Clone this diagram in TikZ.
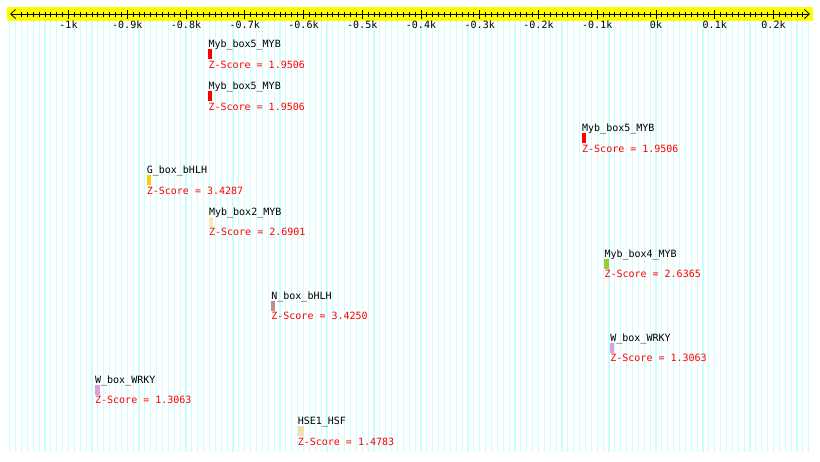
\documentclass[tikz,border=0pt]{standalone}
\usepackage{fontspec}
\setmonofont{DejaVu Sans Mono}
\usetikzlibrary{arrows.meta}
\definecolor{bandyellow}{RGB}{255,255,0}
\definecolor{gridcyan}{RGB}{200,255,255}
\definecolor{gboxgold}{RGB}{255,204,0}
\definecolor{mybpeach}{RGB}{255,228,181}
\definecolor{mybgreen}{RGB}{154,205,50}
\definecolor{nboxrose}{RGB}{188,143,143}
\definecolor{wboxplum}{RGB}{221,160,221}
\definecolor{hsewheat}{RGB}{245,222,179}
\tikzset{
  motif/.style={font=\ttfamily\fontsize{10}{12}\selectfont, inner sep=0pt, anchor=base west},
  zscore/.style={motif, text=red},
  ticklabel/.style={font=\ttfamily\fontsize{10}{12}\selectfont, inner sep=0pt, anchor=base},
}
\begin{document}
\begin{tikzpicture}[x=1pt,y=-1pt]
  \useasboundingbox (0,0) rectangle (820,461);
  % grid, one line per 10 bp
  \foreach \bp in {-1100,-1090,...,260}
    \draw[gridcyan, line width=1.2pt] ({656+0.5875*\bp},21) -- ({656+0.5875*\bp},452);
  % ruler
  \fill[bandyellow] (7,7) rectangle (813,21);
  \coordinate (rulerL) at (10,14);
  \coordinate (rulerR) at (810,14);
  \draw[line width=0.8pt, {Straight Barb[length=5pt,width=9pt]}-{Straight Barb[length=5pt,width=9pt]}] (rulerL) -- (rulerR);
  \foreach \bp in {-1080,-1070,...,250}
    \draw[line width=0.8pt] ({656+0.5875*\bp},11.5) -- ++(0,5);
  \foreach \bp/\lab [count=\k] in {-1000/-1k,-900/-0.9k,-800/-0.8k,-700/-0.7k,-600/-0.6k,-500/-0.5k,-400/-0.4k,-300/-0.3k,-200/-0.2k,-100/-0.1k,0/0k,100/0.1k,200/0.2k}
  {
    \draw[line width=0.8pt] ({656+0.5875*\bp},10) -- ++(0,8.5);
    \node[ticklabel] (lab\k) at ({656+0.5875*\bp},28.3) {\lab};
  }
  % motif hits
  \foreach \bp/\row/\w/\col/\name/\zs [count=\i] in {
      -762/0/4/red/Myb\_box5\_MYB/1.9506,
      -762/1/4/red/Myb\_box5\_MYB/1.9506,
      -126/2/4/red/Myb\_box5\_MYB/1.9506,
      -867/3/4/gboxgold/G\_box\_bHLH/3.4287,
      -761/4/4/mybpeach/Myb\_box2\_MYB/2.6901,
      -88/5/5/mybgreen/Myb\_box4\_MYB/2.6365,
      -655/6/4/nboxrose/N\_box\_bHLH/3.4250,
      -78/7/4/wboxplum/W\_box\_WRKY/1.3063,
      -955/8/5/wboxplum/W\_box\_WRKY/1.3063,
      -610/9/6/hsewheat/HSE1\_HSF/1.4783}
  {
    \coordinate (bar\i) at ({656+0.5875*\bp},{49.3+41.9*\row});
    \fill[\col] (bar\i) rectangle ++(\w,10);
    \node[motif] (name\i) at ([yshift=1.5pt]bar\i) {\name};
    \node[zscore] (score\i) at ([yshift=-19pt]bar\i) {Z-Score = \zs};
  }
\end{tikzpicture}
\end{document}
